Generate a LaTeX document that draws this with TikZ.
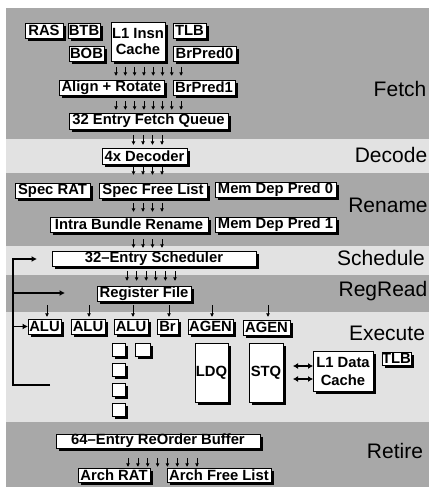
\documentclass[tikz,border=0pt]{standalone}
\usepackage{fontspec}
\setmainfont{Liberation Sans}
\usetikzlibrary{arrows.meta,shadows}
\definecolor{bandDark}{RGB}{168,168,168}
\definecolor{bandLight}{RGB}{226,226,226}
\tikzset{
  bx/.style={draw=black, fill=white, line width=0.8pt, inner sep=0pt, outer sep=0pt,
    font=\fontsize{14.8}{16}\selectfont\bfseries, align=center,
    drop shadow={shadow xshift=2.6pt, shadow yshift=-2.6pt, fill=black, opacity=1}},
  stagelbl/.style={font=\fontsize{21}{22}\selectfont, inner sep=0pt},
  barr/.style={line width=0.8pt, -{Latex[length=3.6pt,width=4pt]}},
  fbarr/.style={line width=1.6pt, -{Latex[length=5.5pt,width=6pt]}},
  darr/.style={line width=1.4pt, {Latex[length=5pt,width=6pt]}-{Latex[length=5pt,width=6pt]}},
}
\newcommand\mkbox[7][]{\node[bx,#1, minimum width={#5-#3}, minimum height={#6-#4}] (#2) at ({(#3+#5)/2},{(#4+#6)/2}) {#7};}
\begin{document}
\begin{tikzpicture}[x=1pt,y=-1pt]
\useasboundingbox (0,0) rectangle (429,487);
% stage bands
\fill[bandDark]  (6,8)   rectangle (429,139);
\fill[bandLight] (6,139) rectangle (429,173);
\fill[bandDark]  (6,173) rectangle (429,246);
\fill[bandLight] (6,246) rectangle (429,275);
\fill[bandDark]  (6,275) rectangle (429,312);
\fill[bandLight] (6,312) rectangle (429,422);
\fill[bandDark]  (6,422) rectangle (429,487);
% stage labels
\node[stagelbl] (lFetch)    at (400,89)  {Fetch};
\node[stagelbl] (lDecode)   at (391,155) {Decode};
\node[stagelbl] (lRename)   at (388,205) {Rename};
\node[stagelbl] (lSchedule) at (381,258) {Schedule};
\node[stagelbl] (lRegRead)  at (383,291) {RegRead};
\node[stagelbl] (lExecute)  at (387,333) {Execute};
\node[stagelbl] (lRetire)   at (395,451) {Retire};
% Fetch
\mkbox{ras}{25}{23}{63}{38}{RAS}
\mkbox{btb}{68}{23}{100}{38}{BTB}
\mkbox[font=\fontsize{14.8}{15.6}\selectfont\bfseries]{icache}{111}{22}{165}{61}{L1 Insn\\Cache}
\mkbox{itlb}{173}{23}{206}{38}{TLB}
\mkbox{bob}{69}{46}{104}{61}{BOB}
\mkbox{bp0}{173}{46}{236}{61}{BrPred0}
\mkbox{align}{59}{80}{164}{95}{Align + Rotate}
\mkbox{bp1}{173}{80}{235}{95}{BrPred1}
\mkbox{fq}{69}{113}{228}{129}{32 Entry Fetch Queue}
% Decode
\mkbox{dec}{102}{148}{187}{164}{4x Decoder}
% Rename
\mkbox{srat}{15}{183}{90}{198}{Spec RAT}
\mkbox{sfl}{99}{183}{207}{198}{Spec Free List}
\mkbox{mdp0}{215}{182}{336}{197}{Mem Dep Pred 0}
\mkbox{ibr}{50}{217}{208}{232}{Intra Bundle Rename}
\mkbox{mdp1}{215}{217}{336}{232}{Mem Dep Pred 1}
% Schedule
\mkbox{sched}{52}{251}{256}{266}{32--Entry Scheduler}
% RegRead
\mkbox{rf}{97}{286}{191}{301}{Register File}
% Execute
\mkbox{alu1}{28}{319}{61}{334}{ALU}
\mkbox{alu2}{71}{319}{105}{334}{ALU}
\mkbox{alu3}{114}{319}{148}{334}{ALU}
\mkbox{br}{157}{319}{178}{334}{Br}
\mkbox{agen1}{188}{319}{233}{334}{AGEN}
\mkbox{agen2}{243}{320}{290}{335}{AGEN}
\mkbox{sqa}{112}{343}{125}{356}{}
\mkbox{sqb}{112}{363}{125}{376}{}
\mkbox{sqc}{112}{383}{125}{396}{}
\mkbox{sqd}{112}{403}{125}{416}{}
\mkbox{sqe}{135}{343}{150}{356}{}
\mkbox{ldq}{195}{343}{228}{402}{LDQ}
\mkbox{stq}{249}{343}{283}{402}{STQ}
\mkbox[font=\fontsize{14.8}{18}\selectfont\bfseries]{dcache}{313}{351}{373}{391}{L1 Data\\Cache}
\mkbox{dtlb}{382}{352}{411}{365}{TLB}
% Retire
\mkbox{rob}{56}{434}{260}{448}{64--Entry ReOrder Buffer}
\mkbox{arat}{78}{468}{150}{482}{Arch RAT}
\mkbox{afl}{167}{468}{271}{482}{Arch Free List}
% arrow bundles
\foreach \x in {116,125.3,134.6,143.9,153.2,162.5,171.8,181.1} {
  \draw[barr] (\x,67) -- (\x,76);
  \draw[barr] (\x,101) -- (\x,110);
}
\foreach \x in {133.5,143,152.5,162} {
  \draw[barr] (\x,135) -- (\x,145);
  \draw[barr] (\x,167) -- (\x,175);
  \draw[barr] (\x,203) -- (\x,212);
  \draw[barr] (\x,239) -- (\x,248);
}
\foreach \x in {127,136.6,146.2,155.8,165.4,175} {
  \draw[barr] (\x,271) -- (\x,281);
}
\foreach \x in {128,137.9,147.7,157.6,167.4,177.3,187.1,197} {
  \draw[barr] (\x,458) -- (\x,467);
}
\foreach \x in {47,89,133,169,212,268} {
  \draw[barr] (\x,305) -- (\x,317);
}
% feedback path
\coordinate (fbBot) at (50,385);
\coordinate (fbCorner) at (13,385);
\coordinate (fbTop) at (13,259);
\coordinate (fbTipA) at (37,259);
\coordinate (fbMid) at (13,293);
\coordinate (fbTipB) at (65,293);
\coordinate (fbAlu) at (13,326.5);
\draw[fbarr] (fbBot) -- (fbCorner) -- (fbTop) -- (fbTipA);
\draw[fbarr] (fbMid) -- (fbTipB);
\draw[fbarr] (fbAlu) -- (alu1.west);
% STQ <-> L1 data cache
\draw[darr] ([xshift=10pt]stq.east |- 0,366) -- (dcache.west |- 0,366);
\draw[darr] ([xshift=10pt]stq.east |- 0,379) -- (dcache.west |- 0,379);
\end{tikzpicture}
\end{document}
